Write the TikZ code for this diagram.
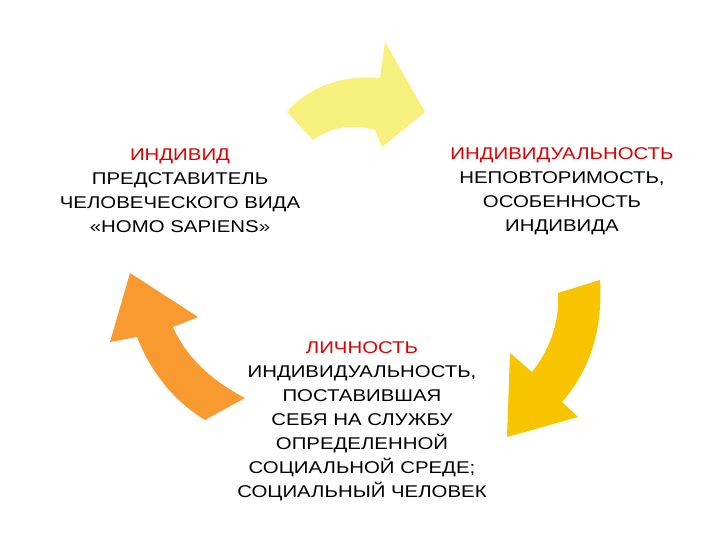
\documentclass[tikz,border=0pt]{standalone}
\usepackage{fontspec}
\setmainfont[FakeStretch=1.2]{Liberation Sans}
\begin{document}
\begin{tikzpicture}[x=1pt,y=-1pt,
  txt/.style={align=center,font=\fontsize{17}{24}\selectfont,inner sep=0pt,anchor=north}]
\useasboundingbox (0,0) rectangle (720,540);
\definecolor{ylw}{HTML}{F8F07C}
\definecolor{gld}{HTML}{F8C400}
\definecolor{org}{HTML}{F89A30}
\definecolor{ttl}{HTML}{E00000}
% top arrow
\fill[ylw] (287,112) .. controls (310,85) and (345,75) .. (380,78) -- (385,42) -- (425,112) -- (382,147) -- (375,130)
  .. controls (350,123) and (330,128) .. (313,140) -- cycle;
% right arrow
\fill[gld] (558,293) -- (600,280) .. controls (603,330) and (590,370) .. (562,402) -- (578,417) -- (507,437) -- (510,353) -- (532,372)
  .. controls (550,350) and (560,320) .. (558,293) -- cycle;
% left arrow
\fill[org] (245,398) .. controls (210,380) and (185,355) .. (173,327) -- (198,317) -- (130,273) -- (110,342) -- (137,337)
  .. controls (150,370) and (172,400) .. (205,420) -- cycle;
\node[txt] (a) at (180,149) {{\color{ttl}ИНДИВИД}\\ПРЕДСТАВИТЕЛЬ\\ЧЕЛОВЕЧЕСКОГО ВИДА\\«HOMO SAPIENS»};
\node[txt] (b) at (562,147) {{\color{ttl}ИНДИВИДУАЛЬНОСТЬ}\\НЕПОВТОРИМОСТЬ,\\ОСОБЕННОСТЬ\\ИНДИВИДА};
\node[txt] (c) at (362,341) {{\color{ttl}ЛИЧНОСТЬ}\\ИНДИВИДУАЛЬНОСТЬ,\\ПОСТАВИВШАЯ\\СЕБЯ НА СЛУЖБУ\\ОПРЕДЕЛЕННОЙ\\СОЦИАЛЬНОЙ СРЕДЕ;\\СОЦИАЛЬНЫЙ ЧЕЛОВЕК};
\end{tikzpicture}
\end{document}
